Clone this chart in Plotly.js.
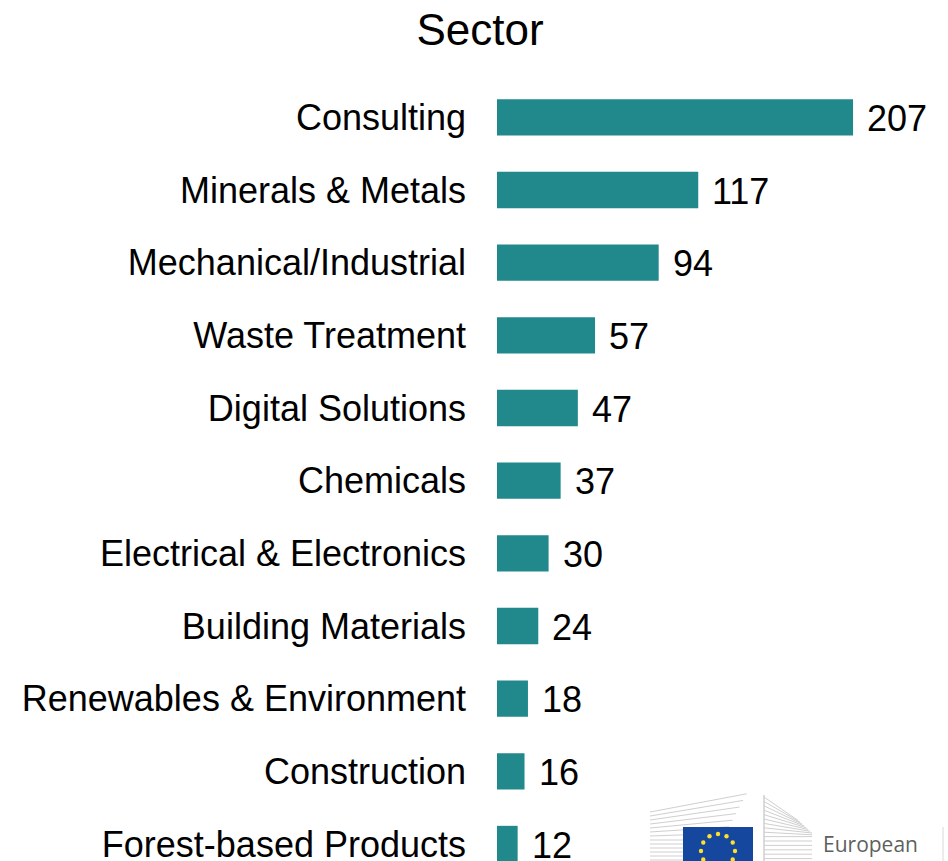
<!DOCTYPE html>
<html>
<head>
<meta charset="utf-8">
<script src="https://cdn.plot.ly/plotly-3.0.1.min.js"></script>
<style>html,body{margin:0;padding:0;background:#fff;overflow:hidden}</style>
</head>
<body>
<div id="chart" style="width:948px;height:861px"></div>
<script>
// ---- data ----
const sectors = ["Consulting","Minerals & Metals","Mechanical/Industrial","Waste Treatment","Digital Solutions","Chemicals","Electrical & Electronics","Building Materials","Renewables & Environment","Construction","Forest-based Products"];
const counts = [207,117,94,57,47,37,30,24,18,16,12];
const chartTitle = "Sector";

// ---- layout constants ----
const W = 948, H = 861;
const L = 497, R = 0, T = 80.65, B = 0;
const pw = W - L - R, ph = H - T - B;
const pxPerUnit = 1.72;
const FONT = '"Liberation Sans", Arial, Helvetica, sans-serif';
const barColor = '#21888B';

function px(x){ return (x - L) / pw; }
function py(y){ return (H - B - y) / ph; }

const valueAnns = sectors.map((s,i)=>({
  x: counts[i], y: s, xref:'x', yref:'y', text: String(counts[i]),
  showarrow:false, xanchor:'left', yanchor:'middle', xshift:12, yshift:-1,
  font:{family:FONT, size:36, color:'#000'}
}));

// ---- decorative logo (European Commission) ----
const shapes = [];
const grey = '#cfcfcf';
// left building lines
for (let k=0;k<13;k++){
  const y = 812 + k*4;
  const rise = Math.max(0, 7-k)*2.6;
  shapes.push({type:'line', xref:'paper', yref:'paper', x0:px(650), x1:px(722 + Math.max(0,7-k)*3.5), y0:py(y), y1:py(y - rise), line:{color:grey, width:1}});
}
// right building lines
for (let k=0;k<15;k++){
  const y = 797 + k*4.4;
  shapes.push({type:'line', xref:'paper', yref:'paper', x0:px(764), x1:px(812 - Math.max(0,7-k)*2), y0:py(y), y1:py(y + Math.max(0,9-k)*2.6), line:{color:grey, width:1}});
}
shapes.push({type:'line', xref:'paper', yref:'paper', x0:px(764), x1:px(764), y0:py(795), y1:py(861), line:{color:grey, width:1.5}});
// blue flag
shapes.push({type:'rect', xref:'paper', yref:'paper', x0:px(683), x1:px(753), y0:py(827), y1:py(870), fillcolor:'#15479E', line:{width:0}, layer:'above'});
// ring of yellow stars (small dots)
for (let k=0;k<12;k++){
  const a = k*Math.PI/6;
  const sx = 718 + 17*Math.sin(a), sy = 851 - 17*Math.cos(a);
  shapes.push({type:'circle', xref:'paper', yref:'paper', x0:px(sx-2.2), x1:px(sx+2.2), y0:py(sy+2.2), y1:py(sy-2.2),
    fillcolor:'#FFE02A', line:{width:0}, layer:'above'});
}
// thin line at right edge
shapes.push({type:'line', xref:'paper', yref:'paper', x0:px(943), x1:px(943), y0:py(827), y1:py(861), line:{color:'#d8d8d8', width:1}});

const logoText = [
  {x:px(821), y:py(844), xref:'paper', yref:'paper', text:'European', showarrow:false, xanchor:'left', yanchor:'middle',
   font:{family:'"Open Sans", "Noto Sans", sans-serif', size:21, color:'#5f5f5f'}},
  {x:px(821), y:py(872), xref:'paper', yref:'paper', text:'Commission', showarrow:false, xanchor:'left', yanchor:'middle',
   font:{family:'"Open Sans", "Noto Sans", sans-serif', size:21, color:'#5f5f5f'}}
];

const trace = {
  type:'bar', orientation:'h', x: counts, y: sectors,
  marker:{color: barColor, line:{width:0}}, width:0.5,
  hoverinfo:'skip', cliponaxis:false
};

const layout = {
  width: W, height: H,
  margin:{l:L, r:R, t:T, b:B, pad:0},
  paper_bgcolor:'#fff', plot_bgcolor:'#fff',
  showlegend:false,
  title:{text: chartTitle, x: 480/W, xref:'container', xanchor:'center', y: 1 - 30/H, yref:'container', yanchor:'middle',
    font:{family:FONT, size:44, color:'#000'}},
  xaxis:{range:[0, pw/pxPerUnit], visible:false, fixedrange:true},
  yaxis:{type:'category', categoryorder:'array', categoryarray:sectors, range:[10.234, -0.5],
    showgrid:false, zeroline:false, showline:false, ticks:'', ticklabelstandoff:30,
    tickfont:{family:FONT, size:36, color:'#000'}, automargin:false, fixedrange:true},
  annotations: valueAnns.concat(logoText),
  shapes: shapes
};

Plotly.newPlot('chart', [trace], layout, {displayModeBar:false, staticPlot:true});
</script>
</body>
</html>
